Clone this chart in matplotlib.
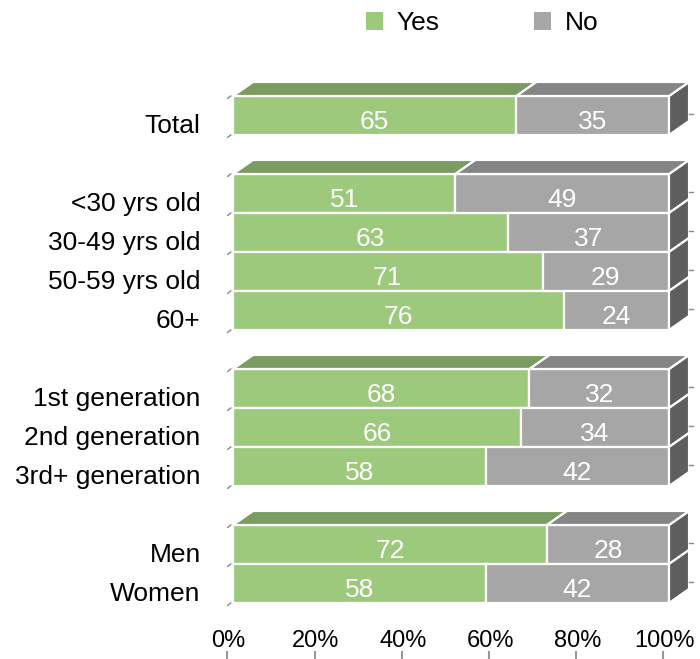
import numpy as np
import matplotlib.pyplot as plt
from matplotlib.patches import Polygon, Patch

plt.rcParams['font.family'] = ['Liberation Sans', 'DejaVu Sans']

categories = ["Total", "<30 yrs old", "30-49 yrs old", "50-59 yrs old", "60+",
              "1st generation", "2nd generation", "3rd+ generation",
              "Men", "Women"]
yes_vals = [65, 51, 63, 71, 76, 68, 66, 58, 72, 58]
no_vals = [35, 49, 37, 29, 24, 32, 34, 42, 28, 42]
group_sizes = [1, 4, 3, 2]
ticks = [0, 20, 40, 60, 80, 100]
tick_labels = ["0%", "20%", "40%", "60%", "80%", "100%"]

green = "#9dc97c"
green_top = "#7b9c60"
grey = "#a6a6a6"
grey_top = "#858585"
side = "#5e5e5e"
fs = 19

# row positions with a blank slot between groups
pos = []
s = 0
for g in group_sizes:
    pos += list(range(s, s + g))
    s += g + 1
pos = np.array(pos, dtype=float)

fig = plt.figure(figsize=(7, 6.59), dpi=100)
W, H = 700, 659
ax = fig.add_axes([233 / W, (H - 603) / H, 436 / W, 507 / H])
ax.set_xlim(0, 100)
ax.set_ylim(pos.max() + 0.5, -0.5)
ax.axis('off')

dx, dy = 4.6, 0.36
lw = 1.6

ax.barh(pos, yes_vals, height=1, color=green, edgecolor='white', linewidth=lw)
ax.barh(pos, no_vals, left=yes_vals, height=1, color=grey, edgecolor='white', linewidth=lw)

# side faces
for p, yv, nv in zip(pos, yes_vals, no_vals):
    top, bot = p - 0.5, p + 0.5
    right = yv + nv
    ax.add_patch(Polygon([(right, top), (right, bot), (right + dx, bot - dy), (right + dx, top - dy)],
                         closed=True, facecolor=side, edgecolor='white', linewidth=lw, clip_on=False))

# top faces of the first bar of each group
start = 0
for g in group_sizes:
    i = start
    top = pos[i] - 0.5
    yv, nv = yes_vals[i], no_vals[i]
    ax.add_patch(Polygon([(0, top), (yv, top), (yv + dx, top - dy), (dx, top - dy)],
                         closed=True, facecolor=green_top, edgecolor='white', linewidth=lw, clip_on=False))
    ax.add_patch(Polygon([(yv, top), (yv + nv, top), (yv + nv + dx, top - dy), (yv + dx, top - dy)],
                         closed=True, facecolor=grey_top, edgecolor='white', linewidth=lw, clip_on=False))
    # small axis marks on the left
    for j in range(g + 1):
        yy = pos[start] - 0.5 + j
        ax.plot([-1.2, -0.5], [yy + 0.06, yy], color='#888888', lw=1, clip_on=False)
    start += g

# small marks on the right
for p in pos:
    ax.plot([104.6, 105.5], [p - 0.05, p - 0.05], color='#888888', lw=1, clip_on=False)

# value labels
for p, yv, nv in zip(pos, yes_vals, no_vals):
    ax.text(yv / 2, p + 0.34, str(yv), color='white', fontsize=fs, ha='center', va='baseline')
    ax.text(yv + nv / 2, p + 0.34, str(nv), color='white', fontsize=fs, ha='center', va='baseline')

# category labels
for p, c in zip(pos, categories):
    ax.text(-7.4, p + 0.44, c, fontsize=fs, ha='right', va='baseline', color='black')

# x tick labels and marks
yb = pos.max() + 0.5
for t, lab in zip(ticks, tick_labels):
    ax.text(t - 1.0, yb + 44 / 39, lab, fontsize=17, ha='center', va='baseline', color='black')
    ax.plot([t - 1.3, t - 1.3], [yb + 49 / 39, yb + 56 / 39], color='#999999', lw=1.5, clip_on=False)

handles = [Patch(facecolor=green, edgecolor='none'), Patch(facecolor=grey, edgecolor='none')]
fig.legend(handles, ["Yes", "No"], loc='center', bbox_to_anchor=(482 / W, 1 - 23 / H), ncol=2,
           frameon=False, fontsize=fs, handlelength=0.65, handleheight=0.65,
           handletextpad=0.5, columnspacing=3.6)

fig.savefig("out.png", dpi=100)
